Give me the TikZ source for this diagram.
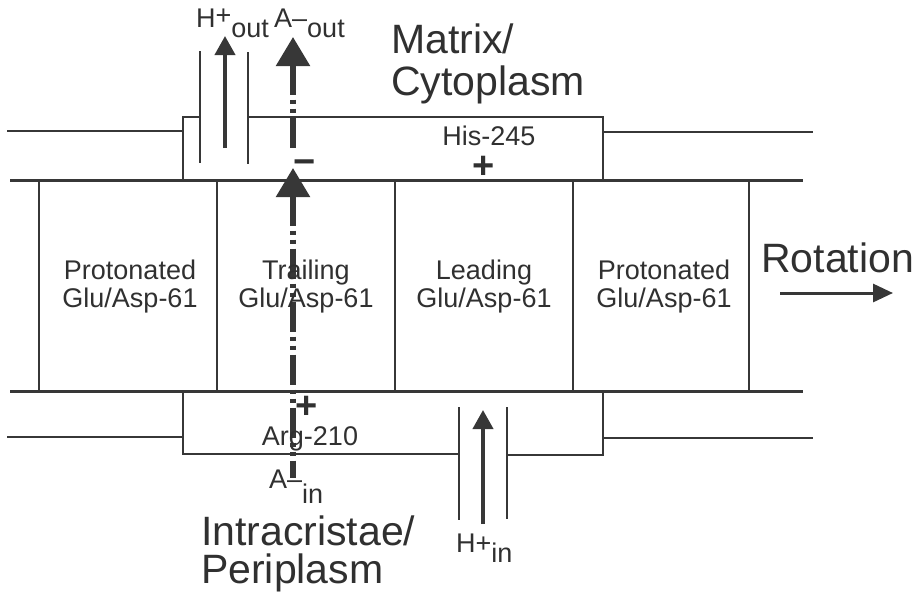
\documentclass[tikz,border=0pt]{standalone}
\usepackage{fontspec}
\setmainfont{Liberation Sans}
\usetikzlibrary{arrows.meta}
\definecolor{ink}{RGB}{48,48,48}
\definecolor{lin}{RGB}{55,55,55}
\begin{document}
\begin{tikzpicture}[x=1pt,y=-1pt,
  thinln/.style={draw=lin, line width=2pt},
  membln/.style={draw=lin, line width=3pt},
  harrow/.style={draw=lin, line width=4pt, -{Triangle[width=20pt,length=19pt]}},
  aarrow/.style={draw=lin, line width=5.5pt,
     dash pattern=on 30pt off 5pt on 4pt off 5pt on 4pt off 5pt,
     {Triangle[width=33pt,length=29pt]}-},
  rarrow/.style={draw=lin, line width=3pt, -{Triangle[width=18pt,length=20pt]}},
  lbl/.style={text=ink, inner sep=0pt, font=\fontsize{27}{28}\selectfont, anchor=base},
  lblw/.style={text=ink, inner sep=0pt, font=\fontsize{27}{28}\selectfont, anchor=base west},
  big/.style={text=ink, inner sep=0pt, font=\fontsize{41}{42}\selectfont, anchor=base west},
  sign/.style={text=ink, inner sep=0pt, font=\fontsize{38}{38}\bfseries\selectfont, anchor=center}]
\useasboundingbox (0,0) rectangle (918,598);

% ---------- upper membrane ----------
\draw[thinln] (7,131) -- (183,131);
\draw[thinln] (183,180) -- (183,117) -- (200,117);
\draw[thinln] (248,117) -- (603,117) -- (603,180);
\draw[thinln] (603,132) -- (813,132);
\draw[thinln] (200,51) -- (200,163);
\draw[thinln] (248,52) -- (248,164);

% ---------- rotor ring ----------
\draw[membln] (10,180) -- (803,180);
\draw[membln] (10,391) -- (803,391);
\foreach \xx in {39,217,395,573,749}
  \draw[thinln] (\xx,180) -- (\xx,391);

% ---------- lower membrane ----------
\draw[thinln] (7,437) -- (183,437);
\draw[thinln] (183,391) -- (183,454) -- (459,454);
\draw[thinln] (507,455) -- (603,455) -- (603,391);
\draw[thinln] (603,438) -- (813,438);
\draw[thinln] (459,407) -- (459,520);
\draw[thinln] (507,407) -- (507,519);

% ---------- arrows ----------
\coordinate (hout0) at (225,148);
\coordinate (hout1) at (225,36);
\coordinate (hin0) at (483,524);
\coordinate (hin1) at (483,410);
\coordinate (aout0) at (293,148);
\coordinate (aout1) at (293,37);
\coordinate (ain0) at (293,478);
\coordinate (ain1) at (293,168);
\coordinate (rot0) at (780,293);
\coordinate (rot1) at (893,293);
\draw[harrow] (hout0) -- (hout1);
\draw[harrow] (hin0) -- (hin1);
\draw[aarrow] (aout1) -- (aout0);
\draw[aarrow] (ain1) -- (ain0);
\draw[rarrow] (rot0) -- (rot1);

% ---------- charges ----------
\node[sign] (minus) at (305,163) {\vphantom{+}−};
\node[sign] (hisplus) at (484,167) {+};
\node[sign] (argplus) at (307,407) {+};

% ---------- labels ----------
\node[lblw] (hout) at (196,27) {H\raisebox{3pt}{+}\raisebox{-10pt}{out}};
\node[lblw] (aout) at (274,27) {A–\raisebox{-10pt}{out}};
\node[lblw] (ain) at (269,488) {A–\raisebox{-15pt}{in}};
\node[lblw] (hin) at (456,552) {H+\raisebox{-10pt}{in}};
\node[lbl] (his) at (489,145) {His-245};
\node[lbl] (arg) at (310,445) {Arg-210};

\node[lbl] (c1a) at (130,279) {Protonated};
\node[lbl] (c1b) at (130,307) {Glu/Asp-61};
\node[lbl] (c2a) at (306,279) {Trailing};
\node[lbl] (c2b) at (306,307) {Glu/Asp-61};
\node[lbl] (c3a) at (484,279) {Leading};
\node[lbl] (c3b) at (484,307) {Glu/Asp-61};
\node[lbl] (c4a) at (664,279) {Protonated};
\node[lbl] (c4b) at (664,307) {Glu/Asp-61};

\node[big] (mat1) at (391,53) {Matrix/};
\node[big] (mat2) at (391,95) {Cytoplasm};
\node[big] (per1) at (201,545) {Intracristae/};
\node[big] (per2) at (201,583) {Periplasm};
\node[big] (rot) at (761,272) {Rotation};
\end{tikzpicture}
\end{document}
